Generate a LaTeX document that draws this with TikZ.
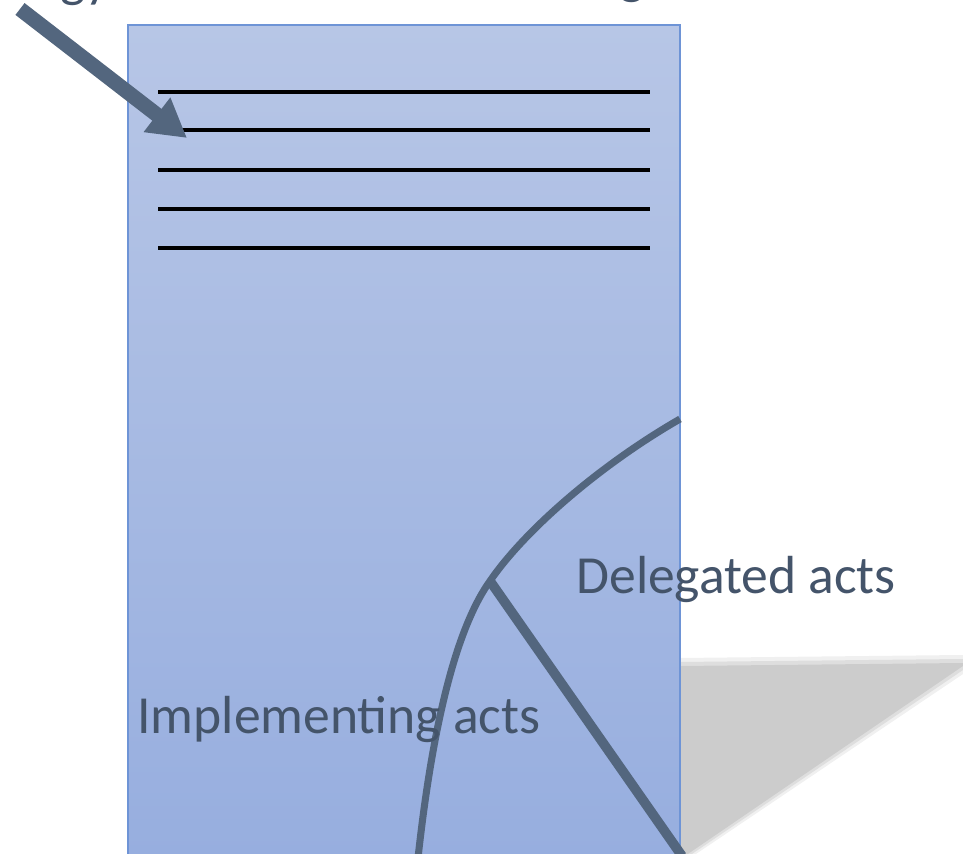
\documentclass[tikz,border=0pt]{standalone}
\usepackage{fontspec}
\setmainfont{Carlito}
\usepackage{tikz}
\usetikzlibrary{arrows.meta}
\definecolor{pagetop}{RGB}{183, 198, 230}
\definecolor{pagebottom}{RGB}{151, 174, 223}
\definecolor{pageborder}{RGB}{110, 148, 214}
\definecolor{inkgray}{RGB}{83, 102, 126}
\definecolor{textgray}{RGB}{68, 84, 106}
\definecolor{shadowgray}{RGB}{204, 204, 204}

\begin{document}
\begin{tikzpicture}[x=0.02cm, y=-0.02cm,
	label text/.style={text=textgray, inner sep=0pt, font=\fontsize{30.5}{36}\selectfont},
	rule line/.style={line width=1.9pt, black},
	cut line/.style={line width=4pt, inkgray}]
	\useasboundingbox (0,0) rectangle (963,854);
	\clip (0,0) rectangle (963,854);
	% shadow
	\fill[shadowgray, opacity=0.3] (680,658) -- (963,655) -- (963,674) -- (690,858) -- (680,858) -- cycle;
	\fill[shadowgray, opacity=0.5] (680,662) -- (963,659) -- (963,670) -- (686,858) -- (680,858) -- cycle;
	\fill[shadowgray] (680,666) -- (963,663) -- (963,666) -- (682,858) -- (680,858) -- cycle;
	% page
	\shade[top color=pagetop, bottom color=pagebottom] (128,25) rectangle (680,858);
	\draw[pageborder, line width=0.6pt] (128,858) -- (128,25) -- (680,25) -- (680,858);
	\foreach \y in {92,130,170,209,248}
		\draw[rule line] (158,\y) -- (650,\y);
	% split
	\coordinate (fork) at (490,581);
	\coordinate (bottom) at (418,858);
	\coordinate (edge) at (680,419);
	\coordinate (corner) at (682,856);
	\draw[cut line] (bottom) .. controls (432,730) and (455,630) .. (fork) .. controls (525,530) and (600,465) .. (edge);
	\draw[cut line, line width=5.5pt] (fork) -- (corner);
	\node[label text, anchor=base west] (delegated) at (576,593) {Delegated acts};
	\node[label text, anchor=base west] (implementing) at (137,733) {Implementing acts};
	% title, cut off at the top
	\node[label text, anchor=base west] (titlea) at (60,-3) {gy};
	\node[label text, anchor=base west] (titleb) at (619,-6) {g};
	\coordinate (tail) at (20,9);
	\coordinate (tip) at (187,138);
	\draw[inkgray, line width=8.5pt, -{Triangle[length=0.76cm, width=0.82cm]}] (tail) -- (tip);
\end{tikzpicture}
\end{document}
